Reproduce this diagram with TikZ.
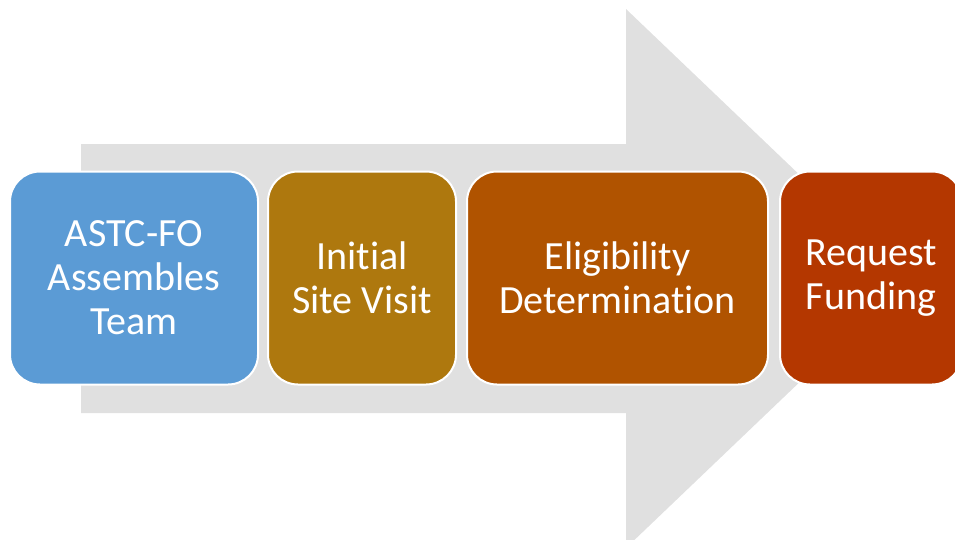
\documentclass[tikz,border=0pt]{standalone}
\usepackage{fontspec}
\setmainfont{Carlito}[Ligatures=NoCommon]
\usetikzlibrary{positioning}
\definecolor{stepblue}{HTML}{5B9BD5}
\definecolor{stepgold}{HTML}{AE780E}
\definecolor{steporange}{HTML}{B05300}
\definecolor{stepred}{HTML}{B43700}
\definecolor{arrowgray}{HTML}{E0E0E0}
\begin{document}
\begin{tikzpicture}[x=1pt,y=-1pt,node distance=8pt,
    step node/.style={rectangle,rounded corners=30pt,draw=white,line width=2pt,minimum height=213pt,align=center,text=white,font=\fontsize{40}{44}\selectfont}]
		\useasboundingbox (0,0) rectangle (955,539);
		
		% big gray arrow behind the steps
		\fill[arrowgray] (81,144) -- (626,144) -- (626,9) -- (908,278.5) -- (626,548) -- (626,413) -- (81,413) -- cycle;
		
		\node[step node,fill=stepblue,minimum width=248pt] (1) at (134,278) {ASTC-FO\\Assembles\\Team};
		\node[step node,fill=stepgold,minimum width=188pt] (2) [right=of 1] {Initial\\Site Visit};
		\node[step node,fill=steporange,minimum width=301pt] (3) [right=9pt of 2] {Eligibility\\Determination};
		\node[step node,fill=stepred,minimum width=182pt] (4) [right=10pt of 3] {Request\\Funding};
		\end{tikzpicture}
\end{document}
